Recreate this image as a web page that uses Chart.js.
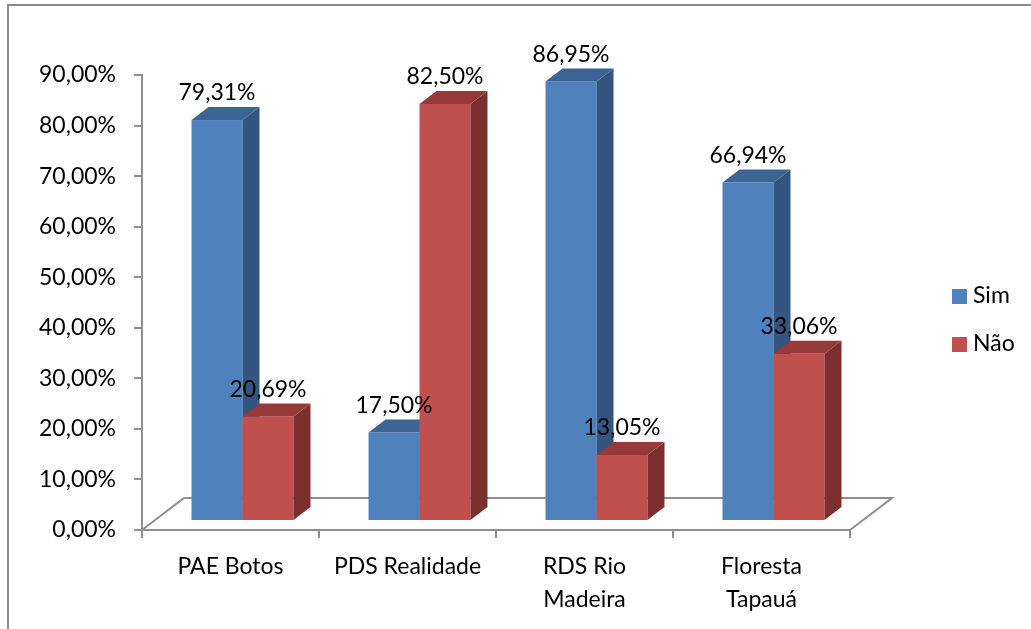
<!DOCTYPE html>
<html>
<head>
<meta charset="utf-8">
<script src="https://cdn.jsdelivr.net/npm/chart.js@4.4.1/dist/chart.umd.min.js"></script>
<style>
  html, body { margin: 0; padding: 0; background: #fff; overflow: hidden; }
  #wrap { position: relative; width: 1031px; height: 629px; }
</style>
</head>
<body>
<div id="wrap"><canvas id="chart" width="1031" height="629"></canvas></div>
<script>
const categories = ['PAE Botos', 'PDS Realidade', ['RDS Rio', 'Madeira'], ['Floresta', 'Tapauá']];
const seriesNames = ['Sim', 'Não'];
const simValues = [79.31, 17.50, 86.95, 66.94];
const naoValues = [20.69, 82.50, 13.05, 33.06];
const yTickStep = 10;
const yMax = 90;

const FONT = 'Lato, "Open Sans", sans-serif';
const FONT_SIZE = 23;
const fmt = v => v.toFixed(2).replace('.', ',') + '%';

// colours for front / top / side faces
const faces = [
    { front: '#4F81BD', top: '#3C6595', side: '#33557F' },
    { front: '#C0504D', top: '#953A38', side: '#7B302E' }
];

// 3d offsets (pixels)
const floorDepth = { dx: 42, dy: -32 };
const barShift = { dx: 12, dy: -9 };
const barDepth = { dx: 17, dy: -13 };

const threeD = {
    id: 'threeD',
    beforeDatasetsDraw(chart) {
        const ctx = chart.ctx;
        const area = chart.chartArea;
        const y0 = chart.scales.y.getPixelForValue(0);

        // floor
        ctx.save();
        ctx.strokeStyle = '#8E8E8E';
        ctx.lineWidth = 2;
        ctx.beginPath();
        ctx.moveTo(area.left, y0);
        ctx.lineTo(area.left + floorDepth.dx, y0 + floorDepth.dy);
        ctx.lineTo(area.right + floorDepth.dx, y0 + floorDepth.dy);
        ctx.lineTo(area.right, y0);
        ctx.stroke();
        ctx.restore();

        // bars, category by category
        const metas = chart.data.datasets.map((d, i) => chart.getDatasetMeta(i));
        for (let c = 0; c < categories.length; c++) {
            metas.forEach((meta, di) => {
                const bar = meta.data[c];
                const f = faces[di];
                const l = bar.x - bar.width / 2 + barShift.dx;
                const r = bar.x + bar.width / 2 + barShift.dx;
                const t = bar.y + barShift.dy;
                const b = bar.base + barShift.dy;

                ctx.fillStyle = f.front;
                ctx.fillRect(l, t, r - l, b - t);

                ctx.fillStyle = f.side;
                ctx.beginPath();
                ctx.moveTo(r, t);
                ctx.lineTo(r + barDepth.dx, t + barDepth.dy);
                ctx.lineTo(r + barDepth.dx, b + barDepth.dy);
                ctx.lineTo(r, b);
                ctx.closePath();
                ctx.fill();

                ctx.fillStyle = f.top;
                ctx.beginPath();
                ctx.moveTo(l, t);
                ctx.lineTo(l + barDepth.dx, t + barDepth.dy);
                ctx.lineTo(r + barDepth.dx, t + barDepth.dy);
                ctx.lineTo(r, t);
                ctx.closePath();
                ctx.fill();
            });
        }

        // value labels
        ctx.save();
        ctx.fillStyle = '#000';
        ctx.font = FONT_SIZE + 'px ' + FONT;
        ctx.textAlign = 'center';
        ctx.textBaseline = 'middle';
        metas.forEach((meta, di) => {
            const values = chart.data.datasets[di].data;
            meta.data.forEach((bar, i) => {
                ctx.fillText(fmt(values[i]), bar.x + barShift.dx, bar.y + barShift.dy - 27);
            });
        });
        ctx.restore();
        return false;
    },
    afterDraw(chart) {
        const ctx = chart.ctx;
        // legend
        ctx.save();
        ctx.font = FONT_SIZE + 'px ' + FONT;
        ctx.textAlign = 'left';
        ctx.textBaseline = 'middle';
        chart.data.datasets.forEach((ds, i) => {
            const y = 296 + i * 48;
            ctx.fillStyle = ds.backgroundColor;
            ctx.fillRect(952, y - 7, 15, 15);
            ctx.fillStyle = '#000';
            ctx.fillText(ds.label, 973, y);
        });
        // outer frame
        ctx.strokeStyle = '#888888';
        ctx.lineWidth = 2;
        ctx.strokeRect(8, 5, 1200, 800);
        ctx.restore();
    }
};

new Chart(document.getElementById('chart'), {
    type: 'bar',
    data: {
        labels: categories,
        datasets: [
            { label: seriesNames[0], data: simValues, backgroundColor: faces[0].front },
            { label: seriesNames[1], data: naoValues, backgroundColor: faces[1].front }
        ]
    },
    options: {
        responsive: false,
        animation: false,
        events: [],
        layout: { padding: { top: 75, right: 181, bottom: 0, left: 0 } },
        datasets: { bar: { barPercentage: 1, categoryPercentage: 0.576, clip: false } },
        plugins: {
            legend: { display: false },
            tooltip: { enabled: false }
        },
        scales: {
            x: {
                afterFit: s => { s.height = 99; },
                border: { color: '#8E8E8E', width: 2 },
                grid: { drawOnChartArea: false, color: '#8E8E8E', lineWidth: 2, tickLength: 8 },
                ticks: { color: '#000', padding: 12, font: { family: FONT, size: FONT_SIZE, lineHeight: 33 / FONT_SIZE } }
            },
            y: {
                min: 0,
                max: yMax,
                afterFit: s => { s.width = 142; },
                border: { color: '#8E8E8E', width: 2 },
                grid: { drawOnChartArea: false, color: '#8E8E8E', lineWidth: 2, tickLength: 8 },
                ticks: {
                    stepSize: yTickStep,
                    color: '#000',
                    padding: 18,
                    font: { family: FONT, size: FONT_SIZE },
                    callback: v => fmt(v)
                }
            }
        }
    },
    plugins: [threeD]
});
</script>
</body>
</html>
